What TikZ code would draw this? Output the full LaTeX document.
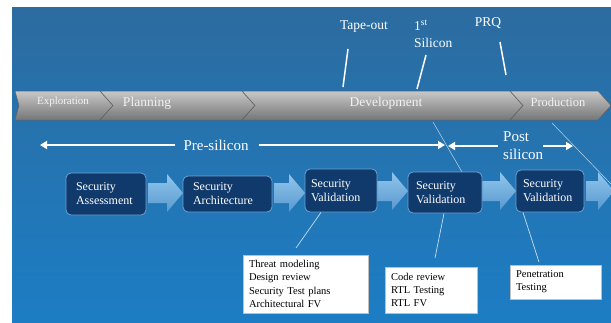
\documentclass[tikz,border=0pt]{standalone}
\usepackage{fontspec}
\setmainfont{Liberation Serif}
\usetikzlibrary{arrows.meta,calc}
\definecolor{bgtop}{RGB}{44,108,160}
\definecolor{bgbot}{RGB}{28,125,196}
\definecolor{chevtop}{RGB}{200,200,200}
\definecolor{chevmid}{RGB}{158,158,158}
\definecolor{chevbot}{RGB}{118,118,118}
\definecolor{chevedge}{RGB}{95,95,95}
\definecolor{boxfill}{RGB}{16,58,108}
\definecolor{boxedge}{RGB}{110,160,210}
\definecolor{arrtop}{RGB}{145,198,236}
\definecolor{arrbot}{RGB}{88,152,208}
\definecolor{chevtext}{RGB}{242,242,242}
\tikzset{
 chevron/.style={top color=chevtop, middle color=chevmid, bottom color=chevbot, draw=chevedge, line width=0.5pt},
 chevlabel/.style={text=chevtext, inner sep=0pt},
 toplabel/.style={text=white, inner sep=0pt, font=\fontsize{13.5}{17}\selectfont},
 milestone/.style={draw=white, line width=1.5pt},
 guide/.style={draw=white, line width=0.5pt, opacity=0.7},
 span/.style={draw=white, line width=2pt, -{Triangle[length=7pt,width=8pt]}},
 secbox/.style={draw=boxedge, line width=0.8pt, fill=boxfill, rounded corners=5pt, text=white, font=\fontsize{12}{14}\selectfont, align=left, inner ysep=0pt},
 blockarrow/.style={top color=arrtop, bottom color=arrbot, draw=none},
 notebox/.style={draw=gray!50, fill=white, align=left, font=\fontsize{10.5}{13.3}\selectfont, inner ysep=0pt, text=black},
 link/.style={draw=white, line width=0.7pt, opacity=0.75},
 barrow/.pic={\path[blockarrow] (0,-10) -- ({#1-16},-10) -- ({#1-16},-19) -- (#1,0) -- ({#1-16},19) -- ({#1-16},10) -- (0,10) -- cycle;}
}
\begin{document}
\begin{tikzpicture}[x=1pt,y=-1pt]
\useasboundingbox (0,0) rectangle (611,322);
\fill[white] (0,0) rectangle (611,322);
\shade[top color=bgtop,bottom color=bgbot] (12,7) rectangle (611,322);

% chevron bar
\path[chevron] (15,91) -- (100,91) -- (113,105.5) -- (100,120) -- (15,120) -- (19,105.5) -- cycle;
\path[chevron] (100,91) -- (242,91) -- (255,105.5) -- (242,120) -- (100,120) -- (113,105.5) -- cycle;
\path[chevron] (242,91) -- (510,91) -- (523,105.5) -- (510,120) -- (242,120) -- (255,105.5) -- cycle;
\path[chevron] (510,91) -- (598,91) -- (611,105.5) -- (598,120) -- (510,120) -- (523,105.5) -- cycle;
\node[chevlabel, font=\fontsize{11}{13}\selectfont] (expl) at (63,102) {Exploration};
\node[chevlabel, font=\fontsize{13.5}{16}\selectfont] (plan) at (147,103) {Planning};
\node[chevlabel, font=\fontsize{13.5}{16}\selectfont] (dev) at (386,103) {Development};
\node[chevlabel, font=\fontsize{12.5}{15}\selectfont] (prod) at (558,102) {Production};

% milestones
\node[toplabel] (tape) at (364,27) {Tape-out};
\node[toplabel, align=left, anchor=west] (first) at (414,34) {1\textsuperscript{st}\\Silicon};
\node[toplabel] (prq) at (488,23) {PRQ};
\coordinate (tapeA) at (348,49); \coordinate (tapeB) at (343,87);
\coordinate (firstA) at (426,55); \coordinate (firstB) at (417,89);
\coordinate (prqA) at (500,42); \coordinate (prqB) at (506,75);
\draw[milestone] (tapeA) -- (tapeB);
\draw[milestone] (firstA) -- (firstB);
\draw[milestone] (prqA) -- (prqB);

% guide lines
\coordinate (g1a) at (433,122); \coordinate (g1b) at (462,172);
\coordinate (g2a) at (552,123); \coordinate (g2b) at (611,184);
\draw[guide] (g1a) -- (g1b);
\draw[guide] (g2a) -- (g2b);

% spans
\node[text=white, inner sep=0pt, font=\fontsize{15}{18}\selectfont] (pre) at (216,145) {Pre-silicon};
\coordinate (preL) at (40,145); \coordinate (preR) at (445,145);
\draw[span] ([xshift=-8pt]pre.west) -- (preL);
\draw[span] ([xshift=10pt]pre.east) -- (preR);
\node[text=white, inner sep=0pt, align=left, anchor=west, font=\fontsize{15}{18}\selectfont] (post) at (503,146) {Post\\silicon};
\coordinate (postL) at (448,146); \coordinate (postR) at (573,146);
\draw[span] ([xshift=-5pt]post.west) -- (postL);
\draw[span] ([xshift=0pt]post.east) -- (postR);

% block arrows
\pic at (148,193) {barrow=35};
\pic at (274,193) {barrow=31};
\pic at (377,191) {barrow=31};
\pic at (482,191) {barrow=34};
\pic at (586,191) {barrow=28};

% security boxes
\node[secbox, minimum height=42pt, text width=60pt, inner xsep=10pt] (b1) at (106,194) {Security\\Assessment};
\node[secbox, minimum height=36pt, text width=69pt, inner xsep=10pt] (b2) at (227.5,194) {Security\\Architecture};
\node[secbox, minimum height=43pt, text width=60pt, inner xsep=6pt] (b3) at (341,190.5) {Security\\Validation};
\node[secbox, minimum height=41pt, text width=58pt, inner xsep=8pt] (b4) at (445,192.5) {Security\\Validation};
\node[secbox, minimum height=42pt, text width=54pt, inner xsep=7pt] (b5) at (550,191) {Security\\Validation};

% note boxes
\node[notebox, text width=113pt, inner xsep=6pt, minimum height=58pt] (n1) at (305.5,284) {Threat modeling\\Design review\\Security Test plans\\Architectural FV};
\node[notebox, text width=80pt, inner xsep=6pt, minimum height=46pt] (n2) at (431,290) {Code review\\RTL Testing\\RTL FV};
\node[notebox, text width=79pt, inner xsep=6pt, minimum height=34pt] (n3) at (555.5,282) {Penetration\\Testing};

% links
\coordinate (l1) at (296,248);
\coordinate (l2) at (435,258);
\coordinate (l3) at (539,262);
\draw[link] ([xshift=-20pt]b3.south) -- (l1);
\draw[link] ([xshift=-1pt]b4.south) -- (l2);
\draw[link] ([xshift=-27pt]b5.south) -- (l3);
\end{tikzpicture}
\end{document}
